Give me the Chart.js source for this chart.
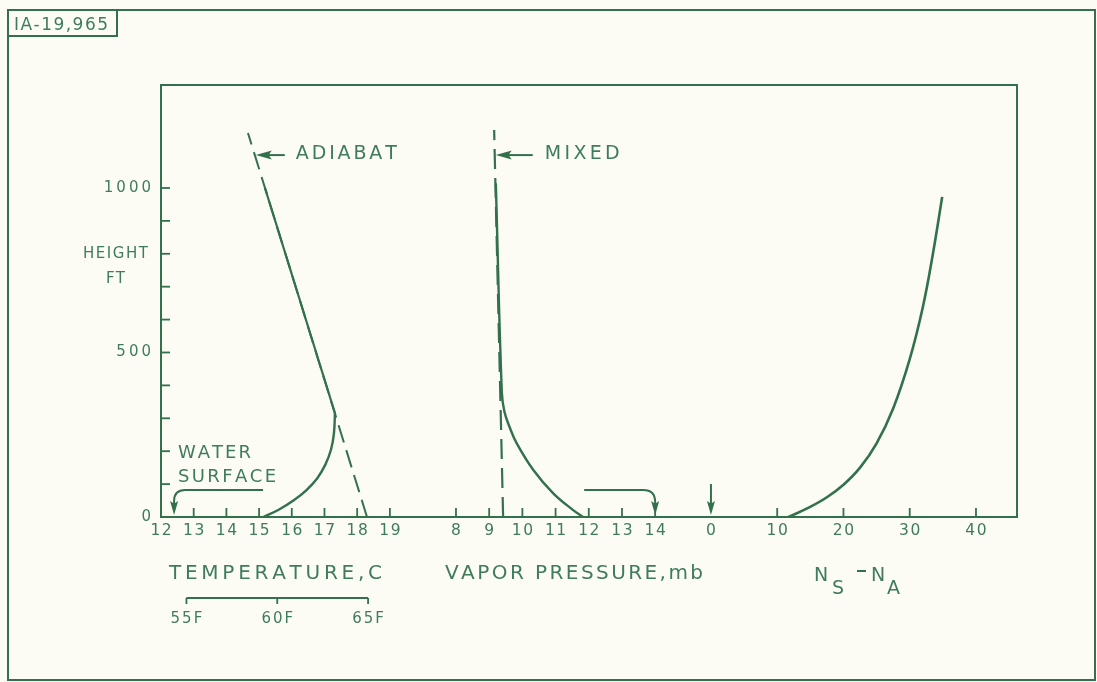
<!DOCTYPE html>
<html>
<head>
<meta charset="utf-8">
<script src="https://cdn.jsdelivr.net/npm/chart.js@4.4.1/dist/chart.umd.min.js"></script>
<style>
  html, body { margin: 0; padding: 0; background: #fcfcf5; }
  #wrap { width: 1097px; height: 682px; position: relative; }
</style>
</head>
<body>
<div id="wrap"><canvas id="c"></canvas></div>
<script>
// ---- Height axis (ft) ----
const heightMax = 1313;
const heightTicks = [100, 200, 300, 400, 500, 600, 700, 800, 900, 1000];
const heightLabels = [0, 500, 1000];

// ---- Temperature panel (deg C) ----
const tempTicks = [12, 13, 14, 15, 16, 17, 18, 19];
const fahrenheitTicks = [55, 60, 65];
const adiabatTemp = [18.30, 14.66];
const adiabatHeight = [0, 1167];
const profileTemp = [15.13, 15.60, 16.05, 16.45, 16.78, 17.03, 17.20, 17.29, 17.32, 15.18];
const profileTempHeight = [0, 22, 50, 82, 118, 160, 205, 255, 316, 1000];
const waterTemp = 12.4;

// ---- Vapor pressure panel (mb) ----
const vaporTicks = [8, 9, 10, 11, 12, 13, 14];
const mixedVapor = [9.42, 9.15];
const mixedHeight = [0, 1176];
const profileVapor = [11.83, 11.53, 10.93, 10.33, 9.83, 9.62, 9.46, 9.38, 9.20];
const profileVaporHeight = [0, 21, 72, 143, 224, 272, 320, 380, 1014];
const surfaceVapor = 14.0;

// ---- Refractivity difference panel (N units) ----
const nTicks = [0, 10, 20, 30, 40];
const profileN = [11.7, 14.9, 17.5, 20.0, 22.5, 25.0, 27.5, 30.0, 32.0, 33.5, 34.9];
const profileNHeight = [0, 30, 60, 98, 150, 224, 330, 480, 640, 800, 973];
const surfaceN = 0;

const INK = '#33704c';
const TEXT = '#3f7c5a';
const FONT = '"DejaVu Sans", sans-serif';

const pts = (xs, ys) => xs.map((x, i) => ({ x, y: ys[i] }));

// letters drawn one by one so the spacing fills a given width
function lettered(ctx, str, x, y, width, size) {
  ctx.font = size + 'px ' + FONT;
  const chars = [...str];
  const w = chars.map(ch => ctx.measureText(ch).width);
  const sum = w.reduce((a, b) => a + b, 0);
  const gap = chars.length > 1 ? (width - sum) / (chars.length - 1) : 0;
  ctx.textAlign = 'left';
  let cx = x;
  chars.forEach((ch, i) => { ctx.fillText(ch, cx, y); cx += w[i] + gap; });
}

function centred(ctx, str, cx, y, size, gap) {
  ctx.font = size + 'px ' + FONT;
  const chars = [...str];
  const w = chars.map(ch => ctx.measureText(ch).width);
  const total = w.reduce((a, b) => a + b, 0) + gap * (chars.length - 1);
  lettered(ctx, str, cx - total / 2, y, total, size);
}

function head(ctx, tx, ty, dx, dy, len, half) {
  const px = -dy, py = dx;
  ctx.beginPath();
  ctx.moveTo(tx, ty);
  ctx.lineTo(tx - dx * len + px * half, ty - dy * len + py * half);
  ctx.lineTo(tx - dx * len * 0.8, ty - dy * len * 0.8);
  ctx.lineTo(tx - dx * len - px * half, ty - dy * len - py * half);
  ctx.closePath();
  ctx.fill();
}

const figurePlugin = {
  id: 'figure',
  beforeDraw(chart) {
    const ctx = chart.ctx;
    ctx.save();
    ctx.fillStyle = '#fcfcf5';
    ctx.fillRect(0, 0, chart.width, chart.height);
    ctx.restore();
    ctx.letterSpacing = '3px';
  },
  afterDraw(chart) {
    const ctx = chart.ctx;
    const { left, right, top, bottom } = chart.chartArea;
    const sT = chart.scales.xT, sV = chart.scales.xV, sN = chart.scales.xN, sY = chart.scales.y;
    ctx.save();
    ctx.letterSpacing = '0px';
    ctx.strokeStyle = INK;
    ctx.fillStyle = TEXT;
    ctx.lineCap = 'butt';

    // outer border and drawing number
    ctx.lineWidth = 2;
    ctx.strokeRect(8, 10, 1087, 670);
    ctx.strokeRect(8, 10, 109, 26);
    ctx.textBaseline = 'alphabetic';
    lettered(ctx, 'IA-19,965', 14, 30, 94, 17);

    // plot frame
    ctx.strokeRect(left, top, right - left, bottom - top);

    // inward height ticks
    ctx.lineWidth = 1.8;
    heightTicks.forEach(h => {
      const y = sY.getPixelForValue(h);
      ctx.beginPath(); ctx.moveTo(left, y); ctx.lineTo(left + 9, y); ctx.stroke();
    });

    // inward x ticks and their labels for the three scales
    const axisRows = [[sT, tempTicks], [sV, vaporTicks], [sN, nTicks]];
    ctx.textBaseline = 'middle';
    axisRows.forEach(([s, ticks]) => {
      ticks.forEach(v => {
        const x = s.getPixelForValue(v);
        if (x > left + 3 && !(s === sN && v === surfaceN)) {
          ctx.beginPath(); ctx.moveTo(x, bottom); ctx.lineTo(x, bottom - 9); ctx.stroke();
        }
        centred(ctx, String(v), x, 531, 15.5, 1.5);
      });
    });

    // axis titles
    ctx.textBaseline = 'alphabetic';
    lettered(ctx, 'HEIGHT', 83, 258, 65, 15);
    lettered(ctx, 'FT', 106, 283, 19, 15);
    lettered(ctx, 'TEMPERATURE,C', 169, 579, 213, 20);
    lettered(ctx, 'VAPOR PRESSURE,mb', 445, 579, 258, 20);

    // N_S - N_A with subscripts
    ctx.font = '19px ' + FONT;
    ctx.textAlign = 'left';
    ctx.fillText('N', 814, 581);
    ctx.fillText('S', 832, 594);
    ctx.fillText('N', 871, 581);
    ctx.fillText('A', 887, 594);
    ctx.lineWidth = 2;
    ctx.beginPath(); ctx.moveTo(857, 571); ctx.lineTo(866, 571); ctx.stroke();

    // Fahrenheit bar under the temperature scale
    const fx = fahrenheitTicks.map(f => sT.getPixelForValue((f - 32) * 5 / 9));
    ctx.lineWidth = 1.8;
    ctx.beginPath();
    ctx.moveTo(fx[0], 598); ctx.lineTo(fx[fx.length - 1], 598);
    fx.forEach(x => { ctx.moveTo(x, 598); ctx.lineTo(x, 604); });
    ctx.stroke();
    fahrenheitTicks.forEach((f, i) => centred(ctx, f + 'F', fx[i], 623, 15, 2));

    // curve labels with arrows
    ctx.fillStyle = INK;
    const yA = sY.getPixelForValue(1100);
    const frac = (1100 - adiabatHeight[0]) / (adiabatHeight[1] - adiabatHeight[0]);
    const xA = sT.getPixelForValue(adiabatTemp[0] + frac * (adiabatTemp[1] - adiabatTemp[0]));
    ctx.lineWidth = 2;
    ctx.beginPath(); ctx.moveTo(xA + 30, yA); ctx.lineTo(xA + 10, yA); ctx.stroke();
    head(ctx, xA + 1, yA, -1, 0, 16, 4.5);
    const fracM = (1100 - mixedHeight[0]) / (mixedHeight[1] - mixedHeight[0]);
    const xM = sV.getPixelForValue(mixedVapor[0] + fracM * (mixedVapor[1] - mixedVapor[0]));
    ctx.beginPath(); ctx.moveTo(xM + 38, yA); ctx.lineTo(xM + 10, yA); ctx.stroke();
    head(ctx, xM + 1, yA, -1, 0, 16, 4.5);

    ctx.fillStyle = TEXT;
    lettered(ctx, 'ADIABAT', xA + 41, 159, 101, 19);
    lettered(ctx, 'MIXED', xM + 50, 159, 75, 19);
    lettered(ctx, 'WATER', 178, 458, 73, 18);
    lettered(ctx, 'SURFACE', 178, 482, 98, 18);

    // surface-value arrows
    ctx.fillStyle = INK;
    ctx.lineWidth = 2;
    const y0 = sY.getPixelForValue(0);
    const xw = sT.getPixelForValue(waterTemp);
    ctx.beginPath();
    ctx.moveTo(xw + 89, 490); ctx.lineTo(xw + 11, 490);
    ctx.quadraticCurveTo(xw, 490, xw, 501); ctx.lineTo(xw, y0 - 10);
    ctx.stroke();
    head(ctx, xw, y0 - 2, 0, 1, 14, 4);

    const xv = sV.getPixelForValue(surfaceVapor);
    ctx.beginPath();
    ctx.moveTo(xv - 71, 490); ctx.lineTo(xv - 12, 490);
    ctx.quadraticCurveTo(xv, 490, xv, 502); ctx.lineTo(xv, y0 - 10);
    ctx.stroke();
    head(ctx, xv, y0 - 2, 0, 1, 14, 4);

    const xn = sN.getPixelForValue(surfaceN);
    ctx.beginPath(); ctx.moveTo(xn, 484); ctx.lineTo(xn, y0 - 10); ctx.stroke();
    head(ctx, xn, y0 - 2, 0, 1, 14, 4);

    ctx.restore();
  }
};

const lineStyle = { borderColor: INK, pointRadius: 0, showLine: true, fill: false };

new Chart(document.getElementById('c'), {
  type: 'scatter',
  data: {
    datasets: [
      { ...lineStyle, label: 'Adiabat', xAxisID: 'xT', data: pts(adiabatTemp, adiabatHeight),
        borderWidth: 2, borderDash: [18, 8], tension: 0 },
      { ...lineStyle, label: 'Temperature', xAxisID: 'xT',
        data: pts(profileTemp.slice(0, 9), profileTempHeight.slice(0, 9)),
        borderWidth: 2.4, tension: 0.4 },
      { ...lineStyle, label: 'Temperature aloft', xAxisID: 'xT',
        data: pts(profileTemp.slice(8), profileTempHeight.slice(8)),
        borderWidth: 2.2, tension: 0 },
      { ...lineStyle, label: 'Mixed', xAxisID: 'xV', data: pts(mixedVapor, mixedHeight),
        borderWidth: 2.2, borderDash: [20, 9], tension: 0 },
      { ...lineStyle, label: 'Vapor pressure', xAxisID: 'xV',
        data: pts(profileVapor, profileVaporHeight),
        borderWidth: 2.4, tension: 0.4 },
      { ...lineStyle, label: 'Ns - Na', xAxisID: 'xN', data: pts(profileN, profileNHeight),
        borderWidth: 2.6, tension: 0.4 }
    ]
  },
  options: {
    responsive: true,
    maintainAspectRatio: false,
    animation: false,
    layout: { padding: { left: 100, top: 85, right: 80, bottom: 165 } },
    plugins: { legend: { display: false }, tooltip: { enabled: false } },
    scales: {
      xT: { type: 'linear', axis: 'x', display: false, min: 12, max: 38.18 },
      xV: { type: 'linear', axis: 'x', display: false, min: -0.886, max: 24.9 },
      xN: { type: 'linear', axis: 'x', display: false, min: -83.0, max: 46.19 },
      y: {
        type: 'linear', min: 0, max: heightMax,
        afterFit: s => { s.width = 61; },
        grid: { display: false, drawTicks: false },
        border: { display: false },
        ticks: {
          stepSize: 100, autoSkip: false, padding: 7, color: TEXT,
          font: { family: 'DejaVu Sans', size: 15 },
          callback: v => heightLabels.includes(v) ? String(v) : ''
        }
      }
    }
  },
  plugins: [figurePlugin]
});
</script>
</body>
</html>
